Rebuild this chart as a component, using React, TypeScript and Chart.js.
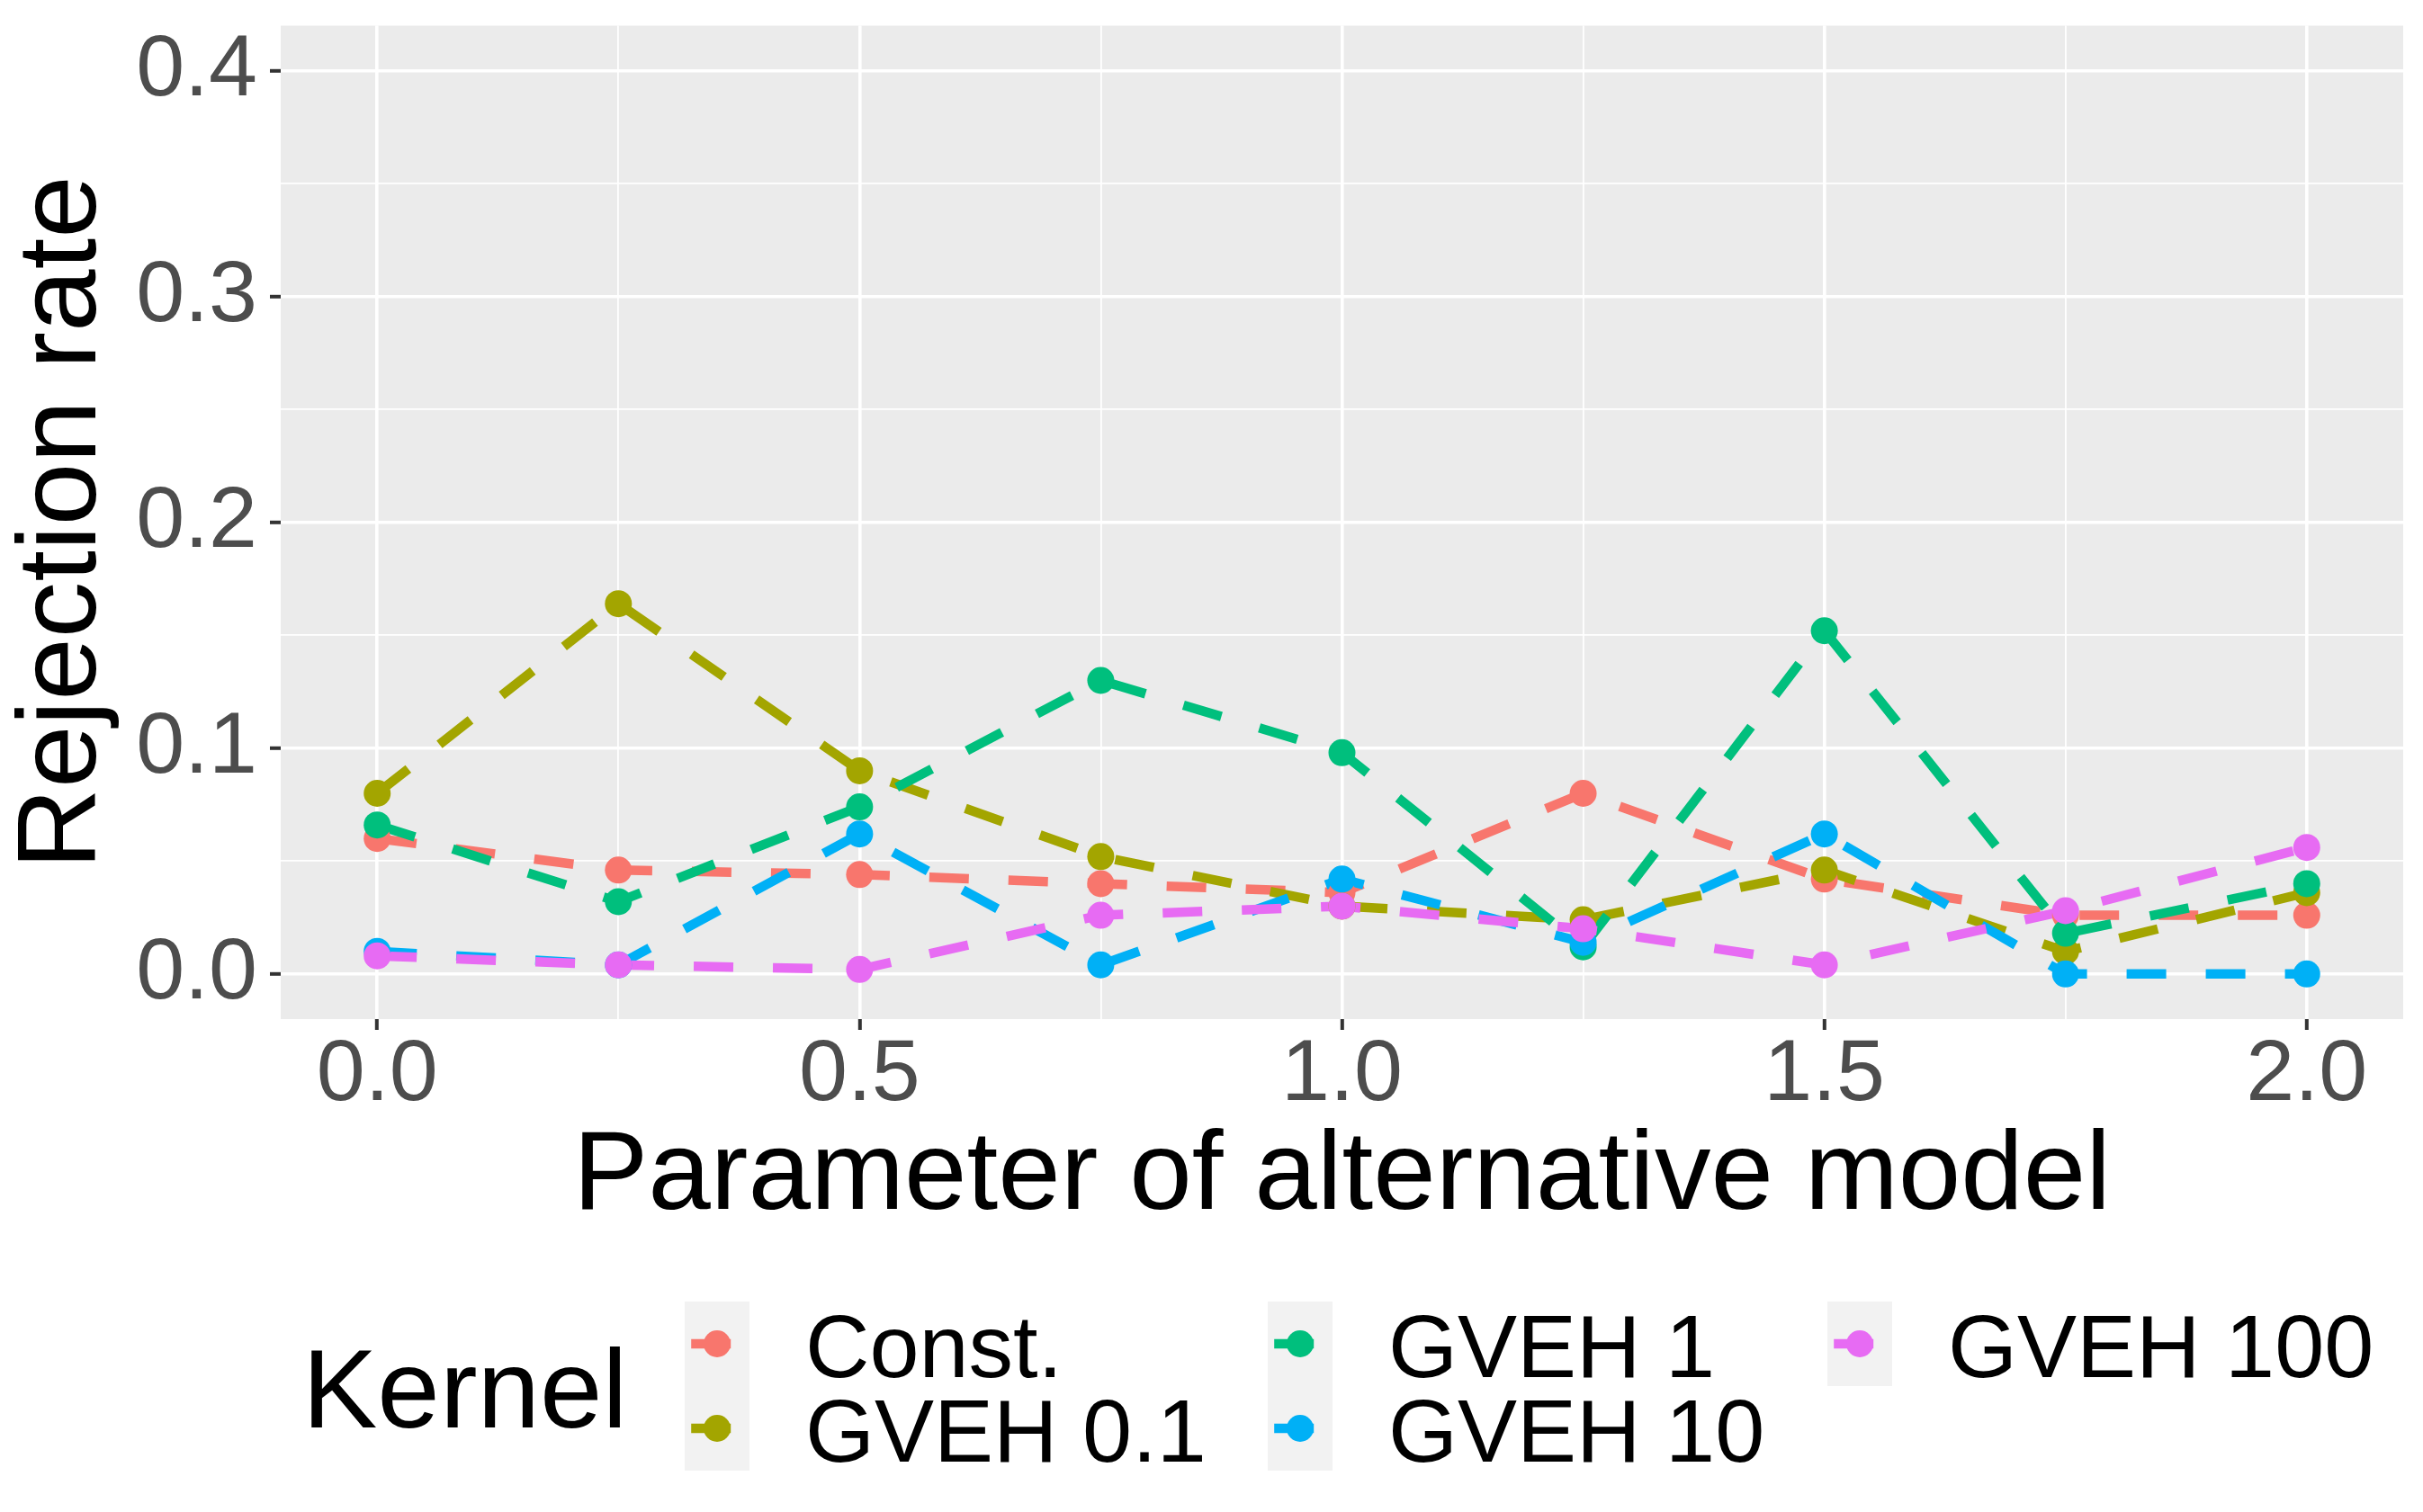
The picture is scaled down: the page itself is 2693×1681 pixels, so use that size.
import React, { useEffect, useRef } from 'react';
import { Chart, registerables } from 'chart.js';

Chart.register(...registerables);

const W = 2693;
const H = 1681;
const FONT = "'Liberation Sans', Arial, sans-serif";

// ---- data ----
const xValues = [0, 0.25, 0.5, 0.75, 1.0, 1.25, 1.5, 1.75, 2.0];
const seriesNames = ['Const.', 'GVEH 0.1', 'GVEH 1', 'GVEH 10', 'GVEH 100'];
const seriesColors = ['#F8766D', '#A3A500', '#00BF7D', '#00B0F6', '#E76BF3'];
const constValues = [0.06, 0.046, 0.044, 0.04, 0.036, 0.08, 0.042, 0.026, 0.026];
const gveh01Values = [0.08, 0.164, 0.09, 0.052, 0.03, 0.024, 0.046, 0.01, 0.036];
const gveh1Values = [0.066, 0.032, 0.074, 0.13, 0.098, 0.012, 0.152, 0.018, 0.04];
const gveh10Values = [0.01, 0.004, 0.062, 0.004, 0.042, 0.014, 0.062, 0.0, 0.0];
const gveh100Values = [0.008, 0.004, 0.002, 0.026, 0.03, 0.02, 0.004, 0.028, 0.056];
const seriesValues = [constValues, gveh01Values, gveh1Values, gveh10Values, gveh100Values];

const xMajorTicks = [0, 0.5, 1.0, 1.5, 2.0];
const xTickLabels = ['0.0', '0.5', '1.0', '1.5', '2.0'];
const xMinorTicks = [0.25, 0.75, 1.25, 1.75];
const yMajorTicks = [0, 0.1, 0.2, 0.3, 0.4];
const yTickLabels = ['0.0', '0.1', '0.2', '0.3', '0.4'];
const yMinorTicks = [0.05, 0.15, 0.25, 0.35];

const xTitle = 'Parameter of alternative model';
const yTitle = 'Rejection rate';
const legendTitle = 'Kernel';

const near = (a: number, b: number) => Math.abs(a - b) < 1e-9;
const majorIndex = (arr: number[], v: number) => arr.findIndex((m) => near(m, v));

const bgPlugin = {
  id: 'ggBackground',
  beforeDraw(chart: any) {
    const { ctx, chartArea: a } = chart;
    ctx.save();
    ctx.fillStyle = '#FFFFFF';
    ctx.fillRect(0, 0, chart.width, chart.height);
    ctx.fillStyle = '#EBEBEB';
    ctx.fillRect(a.left, a.top, a.right - a.left, a.bottom - a.top);
    ctx.restore();
  },
};

const legendPlugin = {
  id: 'ggLegend',
  afterDraw(chart: any) {
    const ctx = chart.ctx;
    ctx.save();
    ctx.fillStyle = '#000000';
    ctx.font = `125px ${FONT}`;
    ctx.textBaseline = 'alphabetic';
    ctx.textAlign = 'left';
    ctx.fillText(legendTitle, 336, 1587);

    const colX = [761, 1409, 2031];
    const boxW = 72;
    const boxH = 94;
    const top = 1447;
    seriesNames.forEach((name, i) => {
      const col = Math.floor(i / 2);
      const row = i % 2;
      const bx = colX[col];
      const by = top + row * boxH;
      const cy = by + boxH / 2;
      const cx = bx + boxW / 2;
      ctx.fillStyle = '#F2F2F2';
      ctx.fillRect(bx, by, boxW, boxH);
      ctx.strokeStyle = seriesColors[i];
      ctx.lineWidth = 10.5;
      ctx.lineCap = 'butt';
      ctx.setLineDash([44, 44]);
      ctx.beginPath();
      ctx.moveTo(bx + 0.1 * boxW, cy);
      ctx.lineTo(bx + 0.9 * boxW, cy);
      ctx.stroke();
      ctx.setLineDash([]);
      ctx.fillStyle = seriesColors[i];
      ctx.beginPath();
      ctx.arc(cx, cy, 15, 0, Math.PI * 2);
      ctx.fill();
      ctx.fillStyle = '#000000';
      ctx.font = `99px ${FONT}`;
      ctx.fillText(name, bx + 134, cy + 37);
    });
    ctx.restore();
  },
};

export default function App() {
  const ref = useRef<HTMLCanvasElement | null>(null);

  useEffect(() => {
    if (!ref.current) return;
    const lineSets = seriesNames.map((name, i) => ({
      label: name,
      data: xValues.map((x, j) => ({ x, y: seriesValues[i][j] })),
      borderColor: seriesColors[i],
      backgroundColor: seriesColors[i],
      borderWidth: 10.5,
      borderDash: [44, 44],
      borderCapStyle: 'butt',
      borderJoinStyle: 'round',
      pointRadius: 0,
      pointHoverRadius: 0,
      showLine: true,
      tension: 0,
      fill: false,
      order: 20 - i,
    }));
    const pointSets = seriesNames.map((name, i) => ({
      label: name + ' points',
      data: xValues.map((x, j) => ({ x, y: seriesValues[i][j] })),
      borderColor: seriesColors[i],
      backgroundColor: seriesColors[i],
      pointBackgroundColor: seriesColors[i],
      pointBorderWidth: 0,
      pointRadius: 15,
      pointHoverRadius: 15,
      showLine: false,
      order: 10 - i,
    }));

    const gridOpts = (majors: number[]) => ({
      color: '#FFFFFF',
      lineWidth: (c: any) => (c.tick && majorIndex(majors, c.tick.value) >= 0 ? 3.6 : 1.8),
      tickColor: (c: any) => (c.tick && majorIndex(majors, c.tick.value) >= 0 ? '#333333' : 'rgba(0,0,0,0)'),
      tickWidth: 4,
      tickLength: 12,
      drawTicks: true,
      drawOnChartArea: true,
    });

    const chart = new Chart(ref.current, {
      type: 'line',
      data: { datasets: [...lineSets, ...pointSets] as any },
      options: {
        animation: false,
        responsive: false,
        devicePixelRatio: 1,
        events: [],
        layout: { padding: { top: 23, right: 22, left: 0, bottom: 296 } },
        plugins: { legend: { display: false }, tooltip: { enabled: false } },
        scales: {
          x: {
            type: 'linear',
            min: -0.1,
            max: 2.1,
            afterFit: (s: any) => {
              s.height = 252;
            },
            afterBuildTicks: (s: any) => {
              s.ticks = [...xMajorTicks, ...xMinorTicks].sort((a, b) => a - b).map((v) => ({ value: v }));
            },
            ticks: {
              autoSkip: false,
              maxRotation: 0,
              minRotation: 0,
              padding: 3,
              color: '#4D4D4D',
              font: { family: FONT, size: 97, lineHeight: 1 },
              callback: (v: any) => {
                const k = majorIndex(xMajorTicks, Number(v));
                return k >= 0 ? xTickLabels[k] : '';
              },
            },
            grid: gridOpts(xMajorTicks) as any,
            border: { display: false },
            title: {
              display: true,
              text: xTitle,
              color: '#000000',
              font: { family: FONT, size: 125, lineHeight: 1.2 },
              padding: { top: 0, bottom: 0 },
            },
          },
          y: {
            type: 'linear',
            min: -0.02,
            max: 0.42,
            afterFit: (s: any) => {
              s.width = 312;
            },
            afterBuildTicks: (s: any) => {
              s.ticks = [...yMajorTicks, ...yMinorTicks].sort((a, b) => a - b).map((v) => ({ value: v }));
            },
            ticks: {
              autoSkip: false,
              padding: 14,
              color: '#4D4D4D',
              font: { family: FONT, size: 97, lineHeight: 0.3 },
              callback: (v: any) => {
                const k = majorIndex(yMajorTicks, Number(v));
                return k >= 0 ? yTickLabels[k] : '';
              },
            },
            grid: gridOpts(yMajorTicks) as any,
            border: { display: false },
            title: {
              display: true,
              text: yTitle,
              color: '#000000',
              font: { family: FONT, size: 125, lineHeight: 1.15 },
              padding: { top: 0, bottom: 0 },
            },
          },
        },
      } as any,
      plugins: [bgPlugin, legendPlugin],
    });
    return () => chart.destroy();
  }, []);

  return (
    <div style={{ position: 'absolute', left: 0, top: 0, width: W, height: H, background: '#fff' }}>
      <canvas ref={ref} width={W} height={H} style={{ width: W, height: H, display: 'block' }} />
    </div>
  );
}
